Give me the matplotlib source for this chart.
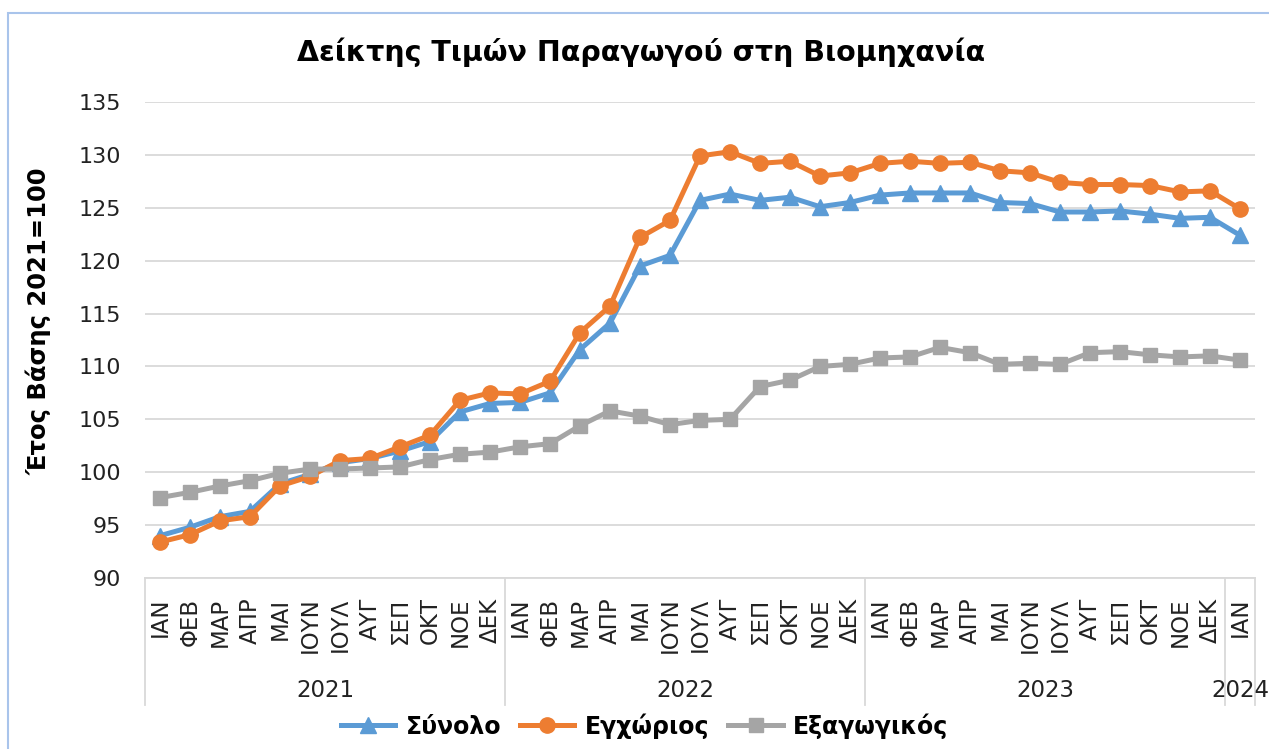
import matplotlib
matplotlib.use('Agg')
import matplotlib.pyplot as plt
import matplotlib.transforms as mtransforms
from matplotlib.patches import Rectangle

# Δεδομένα (Ιαν 2021 - Ιαν 2024)
months = ['ΙΑΝ', 'ΦΕΒ', 'ΜΑΡ', 'ΑΠΡ', 'ΜΑΙ', 'ΙΟΥΝ', 'ΙΟΥΛ', 'ΑΥΓ', 'ΣΕΠ', 'ΟΚΤ', 'ΝΟΕ', 'ΔΕΚ'] * 3 + ['ΙΑΝ']
years = ['2021', '2022', '2023', '2024']
year_counts = [12, 12, 12, 1]

synolo = [94.0, 94.8, 95.8, 96.3, 98.9, 99.8, 100.9, 101.3, 102.0, 102.9, 105.7, 106.5,
          106.6, 107.5, 111.6, 114.1, 119.5, 120.5, 125.7, 126.3, 125.7, 126.0, 125.1, 125.5,
          126.2, 126.4, 126.4, 126.4, 125.5, 125.4, 124.6, 124.6, 124.7, 124.4, 124.0, 124.1, 122.4]
egchorios = [93.4, 94.1, 95.4, 95.8, 98.7, 99.6, 101.1, 101.3, 102.4, 103.5, 106.8, 107.5,
             107.4, 108.6, 113.2, 115.7, 122.2, 123.8, 129.9, 130.3, 129.2, 129.4, 128.0, 128.3,
             129.2, 129.4, 129.2, 129.3, 128.5, 128.3, 127.4, 127.2, 127.2, 127.1, 126.5, 126.6, 124.9]
exagogikos = [97.6, 98.1, 98.7, 99.2, 99.9, 100.3, 100.3, 100.4, 100.5, 101.2, 101.7, 101.9,
              102.4, 102.7, 104.4, 105.8, 105.3, 104.5, 104.9, 105.0, 108.1, 108.7, 110.0, 110.2,
              110.8, 110.9, 111.8, 111.3, 110.2, 110.3, 110.2, 111.3, 111.4, 111.1, 110.9, 111.0, 110.6]

plt.rcParams['font.family'] = ['DejaVu Sans']

fig = plt.figure(figsize=(12.69, 7.49), dpi=100)
ax = fig.add_axes([145 / 1269, 1 - 578 / 749, 1110 / 1269, 476 / 749])

x = list(range(len(months)))
ax.plot(x, synolo, color='#5B9BD5', lw=3.6, marker='^', ms=11, label='Σύνολο')
ax.plot(x, egchorios, color='#ED7D31', lw=3.6, marker='o', ms=11, label='Εγχώριος')
ax.plot(x, exagogikos, color='#A5A5A5', lw=3.6, marker='s', ms=10, label='Εξαγωγικός')

ax.set_xlim(-0.5, len(months) - 0.5)
ax.set_ylim(90, 135)
ax.set_yticks(range(90, 136, 5))
ax.grid(axis='y', color='#D9D9D9', lw=1.3)
ax.set_axisbelow(True)
for s in ['top', 'right', 'left']:
    ax.spines[s].set_visible(False)
ax.spines['bottom'].set_color('#D9D9D9')
ax.spines['bottom'].set_linewidth(1.3)
ax.tick_params(axis='y', length=0, pad=17, labelsize=16, colors='#222222')
ax.set_xticks(x)
ax.set_xticklabels(months, rotation=90, fontsize=16.5, va='top', ha='center', color='#222222')
ax.tick_params(axis='x', length=0, pad=14)

# Διαχωριστικά ετών και ετικέτες ετών
trans = mtransforms.blended_transform_factory(ax.transData, ax.transAxes)
bounds = [-0.5]
for c in year_counts:
    bounds.append(bounds[-1] + c)
for b in bounds:
    ax.plot([b, b], [0, -0.267], transform=trans, color='#D9D9D9', lw=1.3, clip_on=False)
for i, yr in enumerate(years):
    ax.text((bounds[i] + bounds[i + 1]) / 2, -0.237, yr, transform=trans,
            ha='center', va='center', fontsize=16.5, color='#222222')

ax.set_ylabel('Έτος Βάσης 2021=100', fontsize=17.5, fontweight='bold')
ax.yaxis.set_label_coords(-0.084, 0.54)

fig.text(0.505, 1 - 52 / 749, 'Δείκτης Τιμών Παραγωγού στη Βιομηχανία', ha='center', va='center',
         fontsize=20.5, fontweight='bold')

fig.legend(loc='center', bbox_to_anchor=(0.508, 1 - 726 / 749), ncol=3, frameon=False,
           prop={'weight': 'bold', 'size': 17}, handlelength=2.3, handletextpad=0.45,
           columnspacing=0.8)

fig.patches.append(Rectangle((8 / 1269, -0.05), 1.1, 1 - 13 / 749 + 0.05, transform=fig.transFigure,
                             fill=False, edgecolor='#A9C4EB', lw=1.5))

fig.savefig('out.png', dpi=100)
